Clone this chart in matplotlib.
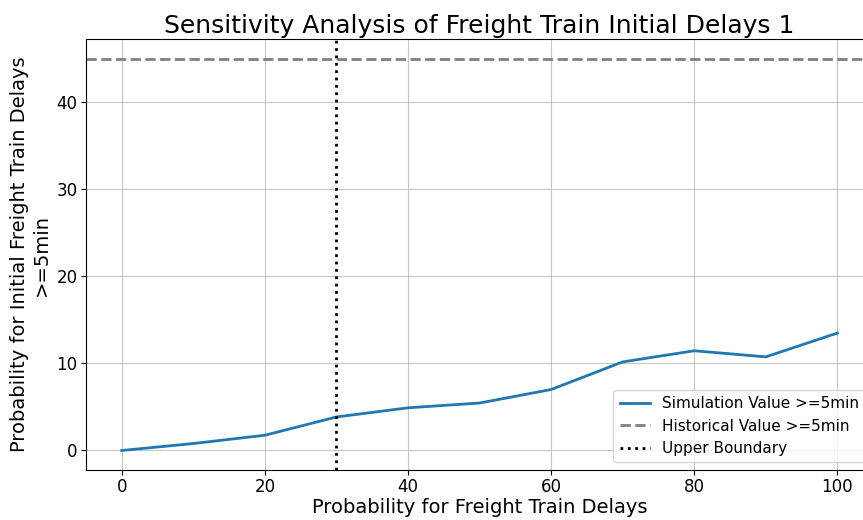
import matplotlib
matplotlib.use("Agg")
import matplotlib.pyplot as plt

# data
prob_delay = [0, 10, 20, 30, 40, 50, 60, 70, 80, 90, 100]
sim_value = [0.0, 0.8, 1.75, 3.85, 4.9, 5.45, 7.0, 10.17, 11.45, 10.75, 13.48]
historical_value = 45
upper_boundary = 30

fig = plt.figure(figsize=(8.63, 5.2), dpi=100)
# axes run past the right edge, as in the reference crop
ax = fig.add_axes([0.0997, 0.096, 0.912, 0.829])

ax.plot(prob_delay, sim_value, color="#1f77b4", linewidth=2, label="Simulation Value >=5min")
ax.axhline(historical_value, color="gray", linestyle="--", linewidth=2, label="Historical Value >=5min")
ax.axvline(upper_boundary, color="black", linestyle=":", linewidth=2, label="Upper Boundary")

ax.set_xlim(-5, 105)
ax.set_ylim(-2.25, 47.25)
ax.grid(True, alpha=0.7)
ax.tick_params(labelsize=12, pad=2.5)

ax.set_title("Sensitivity Analysis of Freight Train Initial Delays 1", fontsize=18, pad=4)
ax.set_xlabel("Probability for Freight Train Delays", fontsize=14, labelpad=1)
ax.set_ylabel("Probability for Initial Freight Train Delays\n>=5min", fontsize=14)
ax.legend(loc="lower right", fontsize=11)

fig.savefig("out.png", dpi=100)
